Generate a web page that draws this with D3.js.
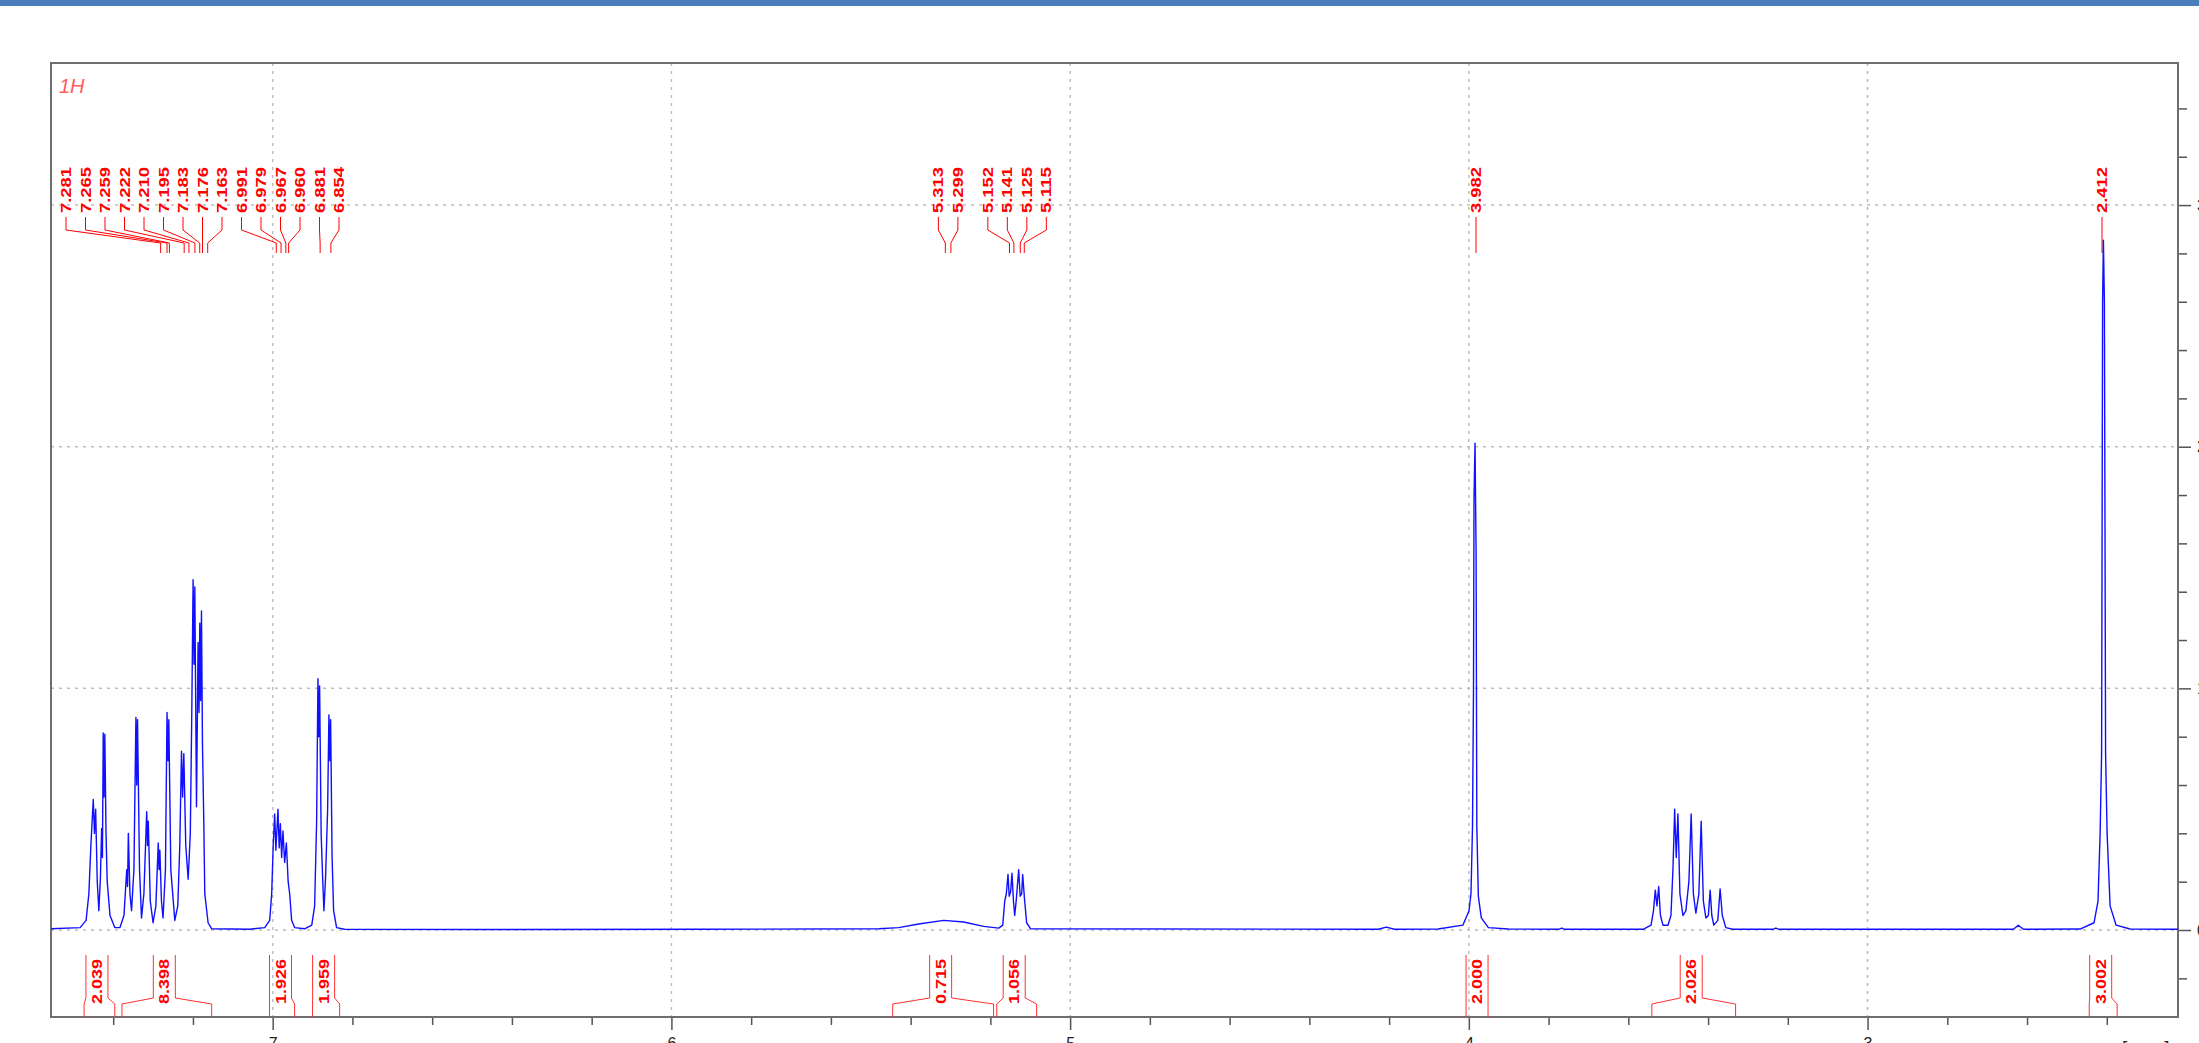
<!DOCTYPE html>
<html>
<head>
<meta charset="utf-8">
<script src="https://cdn.jsdelivr.net/npm/d3@7"></script>
<style>
  body { margin: 0; background: #fff; overflow: hidden; }
  svg { display: block; font-family: "Liberation Sans", Arial, sans-serif; }
  .tick text { font-family: "Liberation Sans", Arial, sans-serif; }
</style>
</head>
<body>
<svg width="2199" height="1043"></svg>
<script>
// spectrum trace: [ppm, intensity]
var spectrum = [
  [7.556, 0.005], [7.483, 0.01], [7.468, 0.04], [7.461, 0.15], [7.456, 0.35], [7.450, 0.54], [7.447, 0.40],
  [7.444, 0.50], [7.440, 0.20], [7.436, 0.08], [7.432, 0.22], [7.429, 0.42], [7.427, 0.30], [7.425, 0.815],
  [7.423, 0.55], [7.421, 0.81], [7.418, 0.40], [7.415, 0.20], [7.408, 0.06], [7.396, 0.01], [7.383, 0.01],
  [7.373, 0.06], [7.366, 0.25], [7.364, 0.18], [7.362, 0.40], [7.358, 0.15], [7.354, 0.08], [7.348, 0.25],
  [7.343, 0.88], [7.341, 0.60], [7.339, 0.87], [7.334, 0.25], [7.329, 0.05], [7.323, 0.15], [7.316, 0.49],
  [7.314, 0.35], [7.312, 0.45], [7.307, 0.12], [7.300, 0.03], [7.293, 0.10], [7.287, 0.36], [7.285, 0.25],
  [7.283, 0.33], [7.279, 0.12], [7.275, 0.05], [7.269, 0.25], [7.265, 0.90], [7.2625, 0.70], [7.2605, 0.87],
  [7.2555, 0.25], [7.2455, 0.04], [7.238, 0.10], [7.233, 0.35], [7.2287, 0.74], [7.2259, 0.55], [7.2229, 0.73],
  [7.218, 0.35], [7.212, 0.21], [7.2066, 0.40], [7.2029, 0.90], [7.1996, 1.45], [7.1973, 1.10], [7.1953, 1.42],
  [7.1911, 0.51], [7.1871, 1.19], [7.1848, 0.90], [7.1828, 1.27], [7.1808, 0.95], [7.1786, 1.32], [7.1761, 0.77],
  [7.1728, 0.45], [7.1703, 0.15], [7.162, 0.03], [7.153, 0.005], [7.058, 0.003], [7.020, 0.01], [7.0075, 0.04],
  [7.0025, 0.15], [6.9987, 0.35], [6.995, 0.48], [6.992, 0.33], [6.9867, 0.50], [6.9837, 0.34], [6.9807, 0.44],
  [6.9775, 0.30], [6.9742, 0.41], [6.970, 0.28], [6.9657, 0.36], [6.9612, 0.20], [6.9574, 0.15], [6.9524, 0.04],
  [6.945, 0.01], [6.920, 0.005], [6.902, 0.02], [6.8948, 0.10], [6.8898, 0.45], [6.8865, 1.04], [6.8843, 0.80],
  [6.8823, 1.01], [6.8785, 0.40], [6.8748, 0.22], [6.8715, 0.08], [6.8673, 0.22], [6.8622, 0.50], [6.859, 0.89],
  [6.8567, 0.70], [6.8547, 0.87], [6.851, 0.30], [6.8472, 0.08], [6.8397, 0.01], [6.820, 0.003], [6.431, 0.002],
  [5.931, 0.003], [5.480, 0.005], [5.430, 0.01], [5.380, 0.025], [5.317, 0.04], [5.267, 0.033], [5.217, 0.015],
  [5.179, 0.008], [5.169, 0.02], [5.164, 0.12], [5.160, 0.15], [5.1558, 0.23], [5.1528, 0.14], [5.1491, 0.16],
  [5.1458, 0.235], [5.1421, 0.12], [5.139, 0.06], [5.1353, 0.12], [5.129, 0.25], [5.1253, 0.14], [5.1215, 0.15],
  [5.119, 0.23], [5.114, 0.12], [5.109, 0.03], [5.099, 0.005], [4.227, 0.003], [4.207, 0.012], [4.187, 0.003],
  [4.077, 0.004], [4.015, 0.02], [3.9996, 0.08], [3.9946, 0.15], [3.9908, 0.43], [3.9883, 1.0], [3.987, 1.79],
  [3.9845, 2.015], [3.9818, 1.56], [3.980, 0.43], [3.9762, 0.14], [3.9687, 0.05], [3.951, 0.01], [3.901, 0.004],
  [3.775, 0.003], [3.767, 0.008], [3.759, 0.003], [3.563, 0.003], [3.543, 0.02], [3.5369, 0.08], [3.5324, 0.165],
  [3.5282, 0.10], [3.5239, 0.18], [3.5194, 0.06], [3.5131, 0.02], [3.5006, 0.02], [3.4931, 0.06], [3.4881, 0.25],
  [3.4838, 0.50], [3.4798, 0.30], [3.4756, 0.48], [3.4706, 0.15], [3.4631, 0.06], [3.4556, 0.08], [3.4481, 0.20],
  [3.4424, 0.48], [3.4369, 0.15], [3.4306, 0.07], [3.4231, 0.15], [3.4173, 0.45], [3.4118, 0.12], [3.4056, 0.05],
  [3.3993, 0.06], [3.3948, 0.165], [3.3906, 0.06], [3.3856, 0.02], [3.3756, 0.04], [3.3698, 0.17], [3.3643, 0.06],
  [3.3556, 0.01], [3.338, 0.003], [3.238, 0.003], [3.230, 0.008], [3.222, 0.003], [2.634, 0.003], [2.622, 0.02],
  [2.609, 0.003], [2.467, 0.004], [2.432, 0.03], [2.422, 0.12], [2.4167, 0.40], [2.413, 0.73], [2.4105, 2.6],
  [2.4085, 2.855], [2.406, 2.6], [2.403, 0.73], [2.3992, 0.40], [2.3917, 0.10], [2.3767, 0.02], [2.3416, 0.004],
  [2.2214, 0.003]
];

var peakLabels = [7.281, 7.265, 7.259, 7.222, 7.210, 7.195, 7.183, 7.176, 7.163,
                  6.991, 6.979, 6.967, 6.960, 6.881, 6.854,
                  5.313, 5.299, 5.152, 5.141, 5.125, 5.115, 3.982, 2.412];

var integralValues = ["2.039", "8.398", "1.926", "1.959", "0.715", "1.056", "2.000", "2.026", "3.002"];
var integralStart  = [7.473, 7.378, 7.008, 6.900, 5.445, 5.184, 4.007, 3.541, 2.444];
var integralEnd    = [7.396, 7.153, 6.945, 6.832, 5.192, 5.084, 3.957, 3.331, 2.374];

var xTicks = [7, 6, 5, 4, 3];
var yTicks = [0, 1, 2, 3];
var yTickLabels = ["0", "1", "2", "3"];

var svg = d3.select("svg"),
    frame = {left: 51, right: 2178, top: 63, bottom: 1017};

var x = d3.scaleLinear().domain([7.556, 2.2214]).range([frame.left, frame.right]),
    y = d3.scaleLinear().domain([-0.36, 3.588]).range([frame.bottom, frame.top]);

var red = "#ff0000";

// title bar
svg.append("rect").attr("x", 0).attr("y", 0).attr("width", 2199).attr("height", 6).attr("fill", "#4a7ebb");

svg.append("defs").append("clipPath").attr("id", "plot")
  .append("rect").attr("x", frame.left).attr("y", frame.top)
  .attr("width", frame.right - frame.left).attr("height", frame.bottom - frame.top);

// grid
var grid = svg.append("g").attr("stroke", "#bdbdbd").attr("stroke-width", 1.5).attr("stroke-dasharray", "3,5");
grid.selectAll(".gx").data(xTicks).enter().append("line")
    .attr("x1", function(d) { return x(d); }).attr("x2", function(d) { return x(d); })
    .attr("y1", frame.top).attr("y2", frame.bottom);
grid.selectAll(".gy").data(yTicks).enter().append("line")
    .attr("x1", frame.left).attr("x2", frame.right)
    .attr("y1", function(d) { return y(d); }).attr("y2", function(d) { return y(d); });

// axes
var minorX = d3.range(24, 76, 2).map(function(d) { return d / 10; })
    .filter(function(d) { return d > 2.22 && d < 7.55 && d % 1 !== 0; });
var minorY = d3.range(-1, 18).map(function(d) { return d / 5; })
    .filter(function(d) { return d > -0.36 && d < 3.58 && d % 1 !== 0; });

function styleAxis(g) {
  g.select(".domain").remove();
  g.selectAll(".tick line").attr("stroke", "#555").attr("stroke-width", 1.5);
  g.selectAll(".tick text").attr("fill", "#222").style("font-size", "16px");
}

svg.append("g").attr("transform", "translate(0," + frame.bottom + ")")
    .call(d3.axisBottom(x).tickValues(minorX).tickSize(8).tickFormat(""))
    .call(styleAxis);
svg.append("g").attr("transform", "translate(0," + frame.bottom + ")")
    .call(d3.axisBottom(x).tickValues(xTicks).tickSize(13).tickPadding(8).tickFormat(d3.format("d")))
    .call(styleAxis);
svg.append("g").attr("transform", "translate(" + frame.right + ",0)")
    .call(d3.axisRight(y).tickValues(minorY).tickSize(9).tickFormat(""))
    .call(styleAxis);
svg.append("g").attr("transform", "translate(" + frame.right + ",0)")
    .call(d3.axisRight(y).tickValues(yTicks).tickSize(13).tickPadding(6)
      .tickFormat(function(d, i) { return yTickLabels[i]; }))
    .call(styleAxis);

svg.append("text").attr("x", 2122).attr("y", 1054)
    .attr("fill", "#222").style("font-size", "19px").text("[ppm]");

// frame
svg.append("rect").attr("x", frame.left).attr("y", frame.top)
    .attr("width", frame.right - frame.left).attr("height", frame.bottom - frame.top)
    .attr("fill", "none").attr("stroke", "#6e6e6e").attr("stroke-width", 2);

svg.append("text").attr("x", 59).attr("y", 93)
    .attr("fill", "#ff5a5a").style("font-size", "20px").style("font-style", "italic").text("1H");

// peak labels: spread into groups with a fixed pitch, centred on the median of each group
var pitch = 19.5;
var groups = peakLabels.map(function(p) { return {items: [p]}; });
function place(g) {
  var xs = g.items.map(x);
  var c = d3.median(xs), n = xs.length;
  g.pos = xs.map(function(_, i) { return c + (i - (n - 1) / 2) * pitch; });
}
groups.forEach(place);
var merged = true;
while (merged) {
  merged = false;
  for (var i = 0; i < groups.length - 1; i++) {
    var a = groups[i], b = groups[i + 1];
    if (a.pos[a.pos.length - 1] + pitch > b.pos[0]) {
      a.items = a.items.concat(b.items);
      groups.splice(i + 1, 1);
      place(a);
      merged = true;
      break;
    }
  }
}
var labelData = [];
groups.forEach(function(g) {
  g.items.forEach(function(p, i) { labelData.push({ppm: p, lx: g.pos[i]}); });
});

var lab = svg.append("g").selectAll("g").data(labelData).enter().append("g");
lab.append("path")
    .attr("fill", "none").attr("stroke", red).attr("stroke-width", 1)
    .attr("d", function(d) {
      var px = x(d.ppm);
      return "M" + d.lx + ",217V230L" + px + ",243V253";
    });
lab.append("text")
    .attr("transform", function(d) { return "translate(" + d.lx + ",213) rotate(-90)"; })
    .attr("dy", "0.36em")
    .attr("textLength", 46).attr("lengthAdjust", "spacingAndGlyphs")
    .attr("fill", red).style("font-size", "14px").style("font-weight", "bold")
    .text(function(d) { return d3.format(".3f")(d.ppm); });

// integrals
var integrals = integralValues.map(function(v, i) {
  return {value: v, x0: x(integralStart[i]), x1: x(integralEnd[i])};
});
var boxW = 22;
var ig = svg.append("g").selectAll("g").data(integrals).enter().append("g");
ig.append("path")
    .attr("fill", "none").attr("stroke", "#ff3030").attr("stroke-width", 1)
    .attr("d", function(d) {
      var c = Math.max(d.x0 + boxW / 2, (d.x0 + d.x1) / 2 - 2.5),
          bl = c - boxW / 2, br = c + boxW / 2;
      return "M" + bl + ",955V998L" + d.x0 + ",1004V" + frame.bottom +
             "M" + br + ",955V998L" + Math.max(d.x1, br) + ",1004V" + frame.bottom;
    });
ig.append("text")
    .attr("transform", function(d) {
      var c = Math.max(d.x0 + boxW / 2, (d.x0 + d.x1) / 2 - 2.5);
      return "translate(" + c + ",1004) rotate(-90)";
    })
    .attr("dy", "0.36em")
    .attr("textLength", 45).attr("lengthAdjust", "spacingAndGlyphs")
    .attr("fill", red).style("font-size", "14px").style("font-weight", "bold")
    .text(function(d) { return d.value; });

// spectrum
var line = d3.line()
    .x(function(d) { return x(d[0]); })
    .y(function(d) { return y(d[1]); });

svg.append("path")
    .datum(spectrum)
    .attr("clip-path", "url(#plot)")
    .attr("fill", "none")
    .attr("stroke", "#1010ff")
    .attr("stroke-width", 1.4)
    .attr("stroke-linejoin", "round")
    .attr("d", line);
</script>
</body>
</html>
